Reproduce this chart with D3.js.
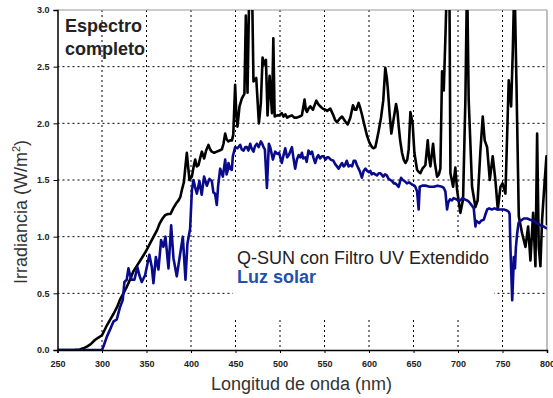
<!DOCTYPE html>
<html><head><meta charset="utf-8">
<script src="https://cdn.jsdelivr.net/npm/d3@7"></script>
<style>
html,body{margin:0;padding:0;background:#fff;}
svg{display:block;}
</style></head>
<body>
<svg id="chart" width="553" height="398"></svg>
<script>
// ---- Data ----
const xTicks = [250,300,350,400,450,500,550,600,650,700,750,800];
const yTicks = [0.0,0.5,1.0,1.5,2.0,2.5,3.0];

const qsunNm = [250,260,268,275,279,283,287,292,296,300,305,310,313,317,320,324,328,332,335,339,343,347,350,354,358,362,365,368,371,374,377,380,383,386,388,390,392,393.5,395.3,397,398.3,401,403,404.7,406.5,408.4,410.5,412.2,414.8,417,419.6,421.5,423.4,426,429,432,434.7,436.5,438.4,440,442,444,446,447.5,449.6,450.8,452.2,454.5,457.2,460,461.6,463.5,465.7,467,468.4,470.2,473.3,476.3,478.5,480.4,482.3,484.2,486,488.3,491,492.5,494,497,499,502,504,506,508,510,513.4,516,519,522,524.6,527.6,529,530.3,532,534,537,540.8,543,545.2,548,550.9,553,556.5,560,562,564,567,569.7,573,576,579,582,584,585.7,588.3,590,592,595,597.8,600.5,603.4,605,607.1,609,610.8,613.5,616,618.3,620,621,623,625.1,627.7,630.4,632,633.4,635,637.1,639,640.9,643,644.6,646.5,647.8,649.1,651,654,656,657.7,660,663.3,666,667.5,669,672,674,676.5,678.5,680.2,682.1,683,684,686,687.7,690.3,691.5,694.5,697,699,702.7,705.7,708.3,710.2,712,715.8,719.6,722.1,725.2,727.8,730,732.7,735.7,739,742,744.7,747.7,750,753.3,757,759.7,761.6,763.4,765.7,768.3,772,775.8,778.8,781.4,784.4,787,788.9,790.7,792.6,794.5,797.2,799.4,800];
const qsunVal = [0,0,0,0.005,0.015,0.03,0.05,0.088,0.11,0.13,0.21,0.28,0.32,0.38,0.44,0.5,0.56,0.63,0.69,0.74,0.79,0.84,0.88,0.94,1.0,1.06,1.12,1.16,1.19,1.2,1.2,1.25,1.29,1.32,1.35,1.42,1.48,1.6,1.74,1.6,1.5,1.53,1.62,1.68,1.62,1.63,1.7,1.75,1.69,1.76,1.81,1.77,1.75,1.74,1.75,1.76,1.77,1.82,1.91,1.86,1.84,1.85,1.85,1.9,2.34,2.1,1.97,2.15,2.22,2.26,2.95,2.27,3.3,3.3,3.3,2.37,2.4,2.0,2.18,2.58,2.52,2.56,2.07,2.42,2.09,2.75,2.06,2.07,2.07,2.09,2.06,2.08,2.05,2.06,2.07,2.05,2.05,2.06,2.07,2.21,2.12,2.1,2.13,2.15,2.12,2.2,2.17,2.15,2.13,2.12,2.11,2.13,2.07,2.03,2.01,2.04,2.06,2.02,1.99,2.05,2.16,2.12,2.12,2.18,2.14,2.08,1.98,1.89,1.83,1.79,1.78,1.79,1.86,1.93,2.05,2.2,2.49,2.4,2.32,2.1,1.91,2.04,2.17,2.1,1.97,1.85,1.74,1.68,1.65,1.68,1.77,2.1,2.05,1.99,1.74,1.59,1.57,1.56,1.6,1.63,1.85,1.7,1.62,1.82,1.65,1.53,1.55,1.6,2.46,2.42,2.29,2.8,3.3,3.3,1.56,1.44,1.61,1.41,1.21,1.33,2.21,3.3,2.21,1.44,1.26,1.32,1.76,2.06,1.85,1.79,1.5,1.71,1.5,1.24,1.44,1.47,1.38,2.38,2.15,2.65,3.3,2.35,1.18,1.03,0.91,1.09,0.79,1.21,0.74,1.91,0.91,0.74,1.15,1.47,1.71,1.1];

const solarNm = [250,300,302,305.6,309,312.8,316.6,320.3,323.3,325.2,327.8,329.7,331.5,333.4,336.4,339.8,342,344.7,348.4,350.3,353.2,356,357.8,360.5,363.4,366.4,369,371.3,374.7,377.7,380.3,384,386.7,390.8,393.8,396,399,401,402.8,404.5,406.6,409.5,412,414.7,417.8,420.7,423.4,425.2,427,429,430.5,432.8,435.8,438.4,440,441.4,442.1,444,445.9,447,449.6,452.2,455.3,457,459,461,462.8,464.5,466.5,468,470.2,472,474,476,478.5,480,481.5,483,485.3,487.5,489,490.9,492,494.6,497,499,502,504,505.9,508,510,513.4,515,517,519,521,523,524.6,526,528.4,530,532,534,536,537.5,539.6,541.5,543,545,547,549,551,553,554.6,557,560,562,564,565.9,568,569.7,571.5,573,575,577,579,581,582.8,584.6,586.5,588.3,590,592,594,596,598,600,601.5,603,605,607,609,611,612.7,614,616,618,620,622,624,626,628,629.6,631,633.3,635,636,638,640,642.7,645,648.3,651,652,654,655.8,657,660,664,668,672.7,677,682.1,684,685.8,687.7,689,691,693.3,695,698,700,702.7,705,707,710.2,712,714,716,717.7,719.6,720.5,722,724,726,729,731,732.8,735,738,741,744,748,751.4,755,757,758,759,760.9,762,762.7,764,765,766.5,768,770.2,774,777.7,781,785,789,792.7,796,800];
const solarVal = [0,0,0.04,0.12,0.18,0.25,0.27,0.38,0.44,0.6,0.62,0.72,0.66,0.62,0.62,0.73,0.66,0.6,0.66,0.73,0.84,0.73,0.59,0.82,0.71,0.97,0.91,1.0,0.72,1.1,0.81,0.65,0.79,1.0,0.62,0.94,1.07,1.41,1.5,1.44,1.38,1.49,1.37,1.53,1.45,1.51,1.49,1.39,1.38,1.28,1.45,1.6,1.53,1.68,1.55,1.59,1.65,1.6,1.59,1.71,1.79,1.78,1.81,1.77,1.76,1.79,1.79,1.76,1.82,1.78,1.75,1.8,1.82,1.79,1.84,1.82,1.79,1.77,1.43,1.82,1.79,1.72,1.68,1.75,1.73,1.74,1.65,1.72,1.78,1.7,1.72,1.79,1.7,1.6,1.68,1.72,1.7,1.74,1.69,1.7,1.66,1.76,1.73,1.75,1.7,1.65,1.7,1.72,1.69,1.71,1.71,1.68,1.7,1.7,1.68,1.67,1.64,1.62,1.6,1.63,1.65,1.62,1.63,1.67,1.62,1.63,1.62,1.67,1.67,1.63,1.6,1.57,1.52,1.58,1.6,1.58,1.57,1.58,1.55,1.56,1.55,1.54,1.56,1.56,1.55,1.53,1.55,1.54,1.51,1.5,1.49,1.47,1.47,1.46,1.44,1.49,1.52,1.5,1.49,1.47,1.48,1.46,1.45,1.44,1.4,1.24,1.44,1.45,1.45,1.44,1.44,1.45,1.44,1.43,1.4,1.24,1.3,1.33,1.32,1.34,1.33,1.32,1.32,1.34,1.33,1.32,1.31,1.29,1.27,1.25,1.09,1.14,1.13,1.12,1.14,1.15,1.2,1.24,1.25,1.24,1.25,1.24,1.24,1.24,1.23,1.22,1.2,0.88,0.44,0.65,0.82,0.72,0.9,1.03,1.12,1.14,1.16,1.16,1.15,1.14,1.12,1.1,1.09,1.07];

// ---- Layout ----
const svg = d3.select("#chart");
const L = 57.5, R = 547, T = 10, B = 350;
const x = d3.scaleLinear().domain([250,800]).range([L,R]);
const y = d3.scaleLinear().domain([0,3]).range([B,T]);
const font = "'Liberation Sans', Arial, Helvetica, sans-serif";

svg.append("defs").append("clipPath").attr("id","clip")
  .append("rect").attr("x",L).attr("y",T).attr("width",R-L).attr("height",B-T);

// grid
const grid = svg.append("g");
grid.selectAll("line.v").data(xTicks.filter(d=>d>250 && d<800)).join("line")
  .attr("x1",d=>x(d)).attr("x2",d=>x(d)).attr("y1",T).attr("y2",B)
  .attr("stroke","#000").attr("stroke-width",1).attr("stroke-dasharray","2,3");
grid.selectAll("line.h").data(yTicks.filter(d=>d>0 && d<3)).join("line")
  .attr("x1",L).attr("x2",R).attr("y1",d=>y(d)).attr("y2",d=>y(d))
  .attr("stroke","#000").attr("stroke-width",1).attr("stroke-dasharray","2,3");

// frame top/right
svg.append("line").attr("x1",L).attr("x2",R).attr("y1",T).attr("y2",T).attr("stroke","#999").attr("stroke-width",1);
svg.append("line").attr("x1",R).attr("x2",R).attr("y1",T).attr("y2",B).attr("stroke","#aaa").attr("stroke-width",1.5);

// legend background box masking grid
svg.append("rect").attr("x",233).attr("y",240).attr("width",261).attr("height",78).attr("fill","#fff");

// lines
const plot = svg.append("g").attr("clip-path","url(#clip)");
const line = d3.line().x(d=>x(d[0])).y(d=>y(d[1]));
plot.append("path").datum(d3.zip(qsunNm,qsunVal)).attr("d",line)
  .attr("fill","none").attr("stroke","#000").attr("stroke-width",2.6).attr("stroke-linejoin","round");
plot.append("path").datum(d3.zip(solarNm,solarVal)).attr("d",line)
  .attr("fill","none").attr("stroke","#0a0a8c").attr("stroke-width",2.6).attr("stroke-linejoin","round");

// axes
const xAxis = svg.append("g").attr("transform",`translate(0,${B})`)
  .call(d3.axisBottom(x).tickValues(xTicks).tickFormat(d3.format("d")).tickSize(3).tickPadding(8));
const yAxis = svg.append("g").attr("transform",`translate(${L},0)`)
  .call(d3.axisLeft(y).tickValues(yTicks).tickFormat(d3.format(".1f")).tickSize(4).tickPadding(4));
[xAxis,yAxis].forEach(a=>{
  a.select(".domain").attr("stroke","#000").attr("stroke-width",1.5);
  a.selectAll(".tick line").attr("stroke","#000");
  a.selectAll(".tick text").attr("font-family",font).attr("font-size",9).attr("font-weight","bold").attr("fill","#222");
});

// titles
svg.append("text").attr("x",301.5).attr("y",390).attr("text-anchor","middle")
  .attr("font-family",font).attr("font-size",18).attr("fill","#333").text("Longitud de onda (nm)");
svg.append("text").attr("transform","translate(27,212) rotate(-90)").attr("text-anchor","middle")
  .attr("font-family",font).attr("font-size",18).attr("fill","#333")
  .call(t=>{t.append("tspan").text("Irradiancia (W/m");
            t.append("tspan").attr("font-size",11).attr("dy",-7).text("2");
            t.append("tspan").attr("dy",7).text(")");});

// annotations
svg.append("text").attr("x",65).attr("y",31.5).attr("font-family",font).attr("font-size",18)
  .attr("font-weight","bold").attr("fill","#222").text("Espectro");
svg.append("text").attr("x",65).attr("y",54.5).attr("font-family",font).attr("font-size",18)
  .attr("font-weight","bold").attr("fill","#222").text("completo");
svg.append("text").attr("x",237).attr("y",264).attr("font-family",font).attr("font-size",18)
  .attr("fill","#222").text("Q-SUN con Filtro UV Extendido");
svg.append("text").attr("x",237).attr("y",282.5).attr("font-family",font).attr("font-size",18)
  .attr("font-weight","bold").attr("fill","#2050b0").text("Luz solar");
</script>
</body></html>
